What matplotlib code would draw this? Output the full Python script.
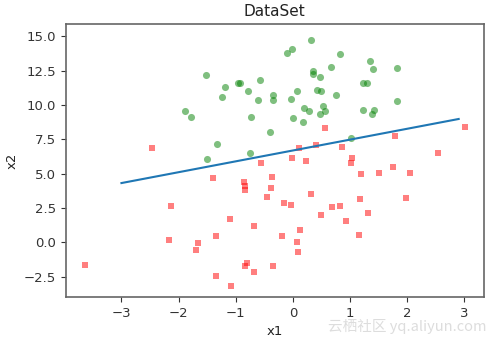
import numpy as np
import matplotlib
matplotlib.use("Agg")
import matplotlib.pyplot as plt

# testSet: x1, x2 and class label (1 = red squares, 0 = green circles)
x1 = [-0.017612, -1.395634, -0.752157, -1.322371, 0.423363, 0.406704, 0.667394, -2.460150,
      0.569411, -0.026632, 0.850433, 1.347183, 1.176813, -1.781871, -0.566606, 0.931635,
      -0.024205, -0.036453, -0.196949, 1.014459, 1.985298, -1.693453, -0.576525, -0.346811,
      -2.124484, 1.217916, -0.733928, -3.642001, 0.315985, 1.416614, -0.386323, 0.556921,
      1.224863, -1.347803, 1.196604, 0.275221, 0.470575, -1.889567, -1.527893, -1.185247,
      -0.445678, 1.042222, -0.618787, 1.152083, 0.828534, -1.237728, -0.683565, 0.229456,
      -0.959885, 0.492911, 0.184992, -0.355715, -0.397822, 0.824839, 1.507278, 0.099671,
      -0.344008, 1.785928, -0.918801, -0.364009, -0.841722, 0.490426, -0.007194, 0.356107,
      0.342578, -0.810823, 2.530777, 1.296683, 0.475487, -0.783277, 0.074798, -1.337472,
      -0.102781, -0.147324, 0.518389, 1.015399, -1.658086, 1.319944, 2.056216, -0.851633,
      -1.510047, -1.076637, 1.821096, 3.010150, -1.099458, -0.834872, -0.846637, 1.400102,
      1.752842, 0.078557, 0.089392, 1.825662, 0.197445, 0.126117, -0.679797, 0.677983,
      0.761349, -2.168791, 1.388610, 0.317029]
x2 = [14.053064, 4.662541, 6.538620, 7.152853, 11.054677, 7.067335, 12.741452, 6.866805,
      9.548755, 10.427743, 6.920334, 13.175500, 3.167020, 9.097953, 5.749003, 1.589505,
      6.151823, 2.690988, 0.444165, 5.754399, 3.230619, -0.557540, 11.778922, -1.678730,
      2.672471, 9.597015, 9.098687, -1.618087, 3.523953, 9.619232, 3.989286, 8.294984,
      11.587360, -2.406051, 4.951851, 9.543647, 9.332488, 9.542662, 12.150579, 11.309318,
      3.297303, 6.105155, 10.320986, 0.548467, 2.676045, 10.549033, -2.166125, 5.921938,
      11.555336, 10.993324, 8.721488, 10.325976, 8.058397, 13.730343, 5.027866, 6.835839,
      10.717485, 7.718645, 11.560217, 4.747300, 4.119083, 1.960539, 9.075792, 12.447863,
      12.281162, -1.466018, 6.476801, 11.607559, 12.040035, 11.009725, 11.023650, 0.468339,
      13.763651, 2.874846, 9.887035, 7.571882, -0.027255, 2.171228, 5.019981, 4.375691,
      6.061992, -3.181888, 10.283990, 8.401766, 1.688274, -1.733869, 3.849075, 12.628781,
      5.468166, 0.059736, -0.715300, 12.693808, 9.744638, 0.922311, 1.220530, 2.556666,
      10.693862, 0.143632, 9.341997, 14.739025]
labels = [0, 1, 0, 0, 0, 1, 0, 1, 0, 0, 1, 0, 1, 0, 1, 1, 1, 1, 1, 1, 1, 1, 0, 1, 1, 0, 0, 1,
          1, 0, 1, 1, 0, 1, 1, 0, 0, 0, 0, 0, 1, 1, 0, 1, 1, 0, 1, 1, 0, 0, 0, 0, 0, 0, 1, 1,
          0, 1, 0, 1, 1, 1, 0, 0, 0, 1, 1, 0, 0, 0, 0, 1, 0, 1, 0, 0, 1, 1, 1, 1, 0, 1, 0, 1,
          1, 1, 1, 0, 1, 1, 1, 0, 0, 1, 1, 1, 0, 1, 0, 0]

# logistic regression weights (bias, w1, w2)
weights = [4.124, 0.487, -0.6168]

x1 = np.array(x1)
x2 = np.array(x2)
labels = np.array(labels)

fig = plt.figure(figsize=(4.96, 3.42), dpi=100)
ax = fig.add_axes([0.1325, 0.131, 0.8433, 0.798])

pos = labels == 1
ax.scatter(x1[pos], x2[pos], s=22, c="red", marker="s", alpha=0.5, linewidths=0)
ax.scatter(x1[~pos], x2[~pos], s=26, c="green", alpha=0.5, linewidths=0)

x = np.arange(-3.0, 3.0, 0.1)
y = (-weights[0] - weights[1] * x) / weights[2]
ax.plot(x, y, color="#1f77b4", lw=1.5)

ax.set_xlim(-3.975, 3.343)
ax.set_ylim(-3.98, 15.86)
ax.set_xticks([-3, -2, -1, 0, 1, 2, 3])
ax.set_yticks([-2.5, 0.0, 2.5, 5.0, 7.5, 10.0, 12.5, 15.0])
ax.tick_params(labelsize=9.5, colors="#333333", length=3.5)
for sp in ax.spines.values():
    sp.set_color("#666666")
    sp.set_linewidth(1.2)

ax.set_title("DataSet", fontsize=11, color="#222222")
ax.set_xlabel("x1", fontsize=9.5, color="#222222", labelpad=4)
ax.set_ylabel("x2", fontsize=9.5, color="#222222")

fig.text(0.98, 0.022, "云栖社区 yq.aliyun.com", ha="right", va="bottom", fontsize=10.5,
         color="#dddddd", family=["Noto Sans CJK SC", "DejaVu Sans"])

fig.savefig("out.png", dpi=100)
